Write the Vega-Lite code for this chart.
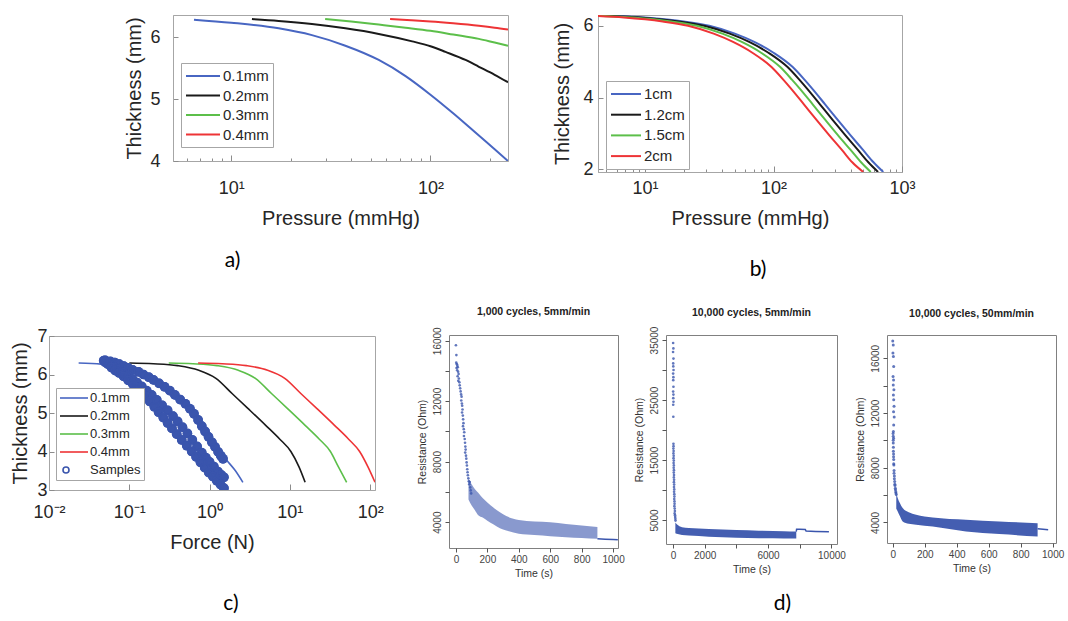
{
"$schema": "https://vega.github.io/schema/vega-lite/v6.json",
"background": "white",
"padding": {"left": 10, "top": 14, "right": 0, "bottom": 0},
"config": {
  "view": {"stroke": "#a6a6a6", "strokeWidth": 1},
  "axis": {"grid": false, "domainColor": "#a6a6a6", "tickColor": "#8c8c8c", "labelFont": "Liberation Sans", "titleFont": "Liberation Sans", "labelColor": "#262626", "titleColor": "#262626", "titleFontWeight": "normal", "labelFontSize": 18, "titleFontSize": 20, "tickSize": -5, "labelOverlap": false, "labelFlush": false},
  "title": {"font": "Lato", "fontSize": 21, "fontWeight": "normal", "color": "#000000"},
  "legend": {"labelFont": "Liberation Sans", "labelColor": "#262626", "strokeColor": "#a6a6a6", "fillColor": "white", "cornerRadius": 0}
},
"datasets": {
  "a": [
    {"P":6.5,"T":6.28,"s":"0.1mm"},{"P":10,"T":6.23,"s":"0.1mm"},{"P":17.3,"T":6.14,"s":"0.1mm"},{"P":25.4,"T":6.03,"s":"0.1mm"},{"P":37.4,"T":5.86,"s":"0.1mm"},{"P":55,"T":5.63,"s":"0.1mm"},{"P":75,"T":5.37,"s":"0.1mm"},{"P":100,"T":5.07,"s":"0.1mm"},{"P":130,"T":4.77,"s":"0.1mm"},{"P":175,"T":4.41,"s":"0.1mm"},{"P":210,"T":4.19,"s":"0.1mm"},{"P":245,"T":4.0,"s":"0.1mm"},
    {"P":12.7,"T":6.29,"s":"0.2mm"},{"P":17.3,"T":6.26,"s":"0.2mm"},{"P":25.4,"T":6.21,"s":"0.2mm"},{"P":37.4,"T":6.14,"s":"0.2mm"},{"P":55,"T":6.05,"s":"0.2mm"},{"P":81,"T":5.93,"s":"0.2mm"},{"P":100,"T":5.85,"s":"0.2mm"},{"P":119,"T":5.76,"s":"0.2mm"},{"P":150,"T":5.63,"s":"0.2mm"},{"P":175,"T":5.52,"s":"0.2mm"},{"P":210,"T":5.39,"s":"0.2mm"},{"P":245,"T":5.27,"s":"0.2mm"},
    {"P":29.6,"T":6.29,"s":"0.3mm"},{"P":40,"T":6.25,"s":"0.3mm"},{"P":55,"T":6.2,"s":"0.3mm"},{"P":75,"T":6.15,"s":"0.3mm"},{"P":100,"T":6.1,"s":"0.3mm"},{"P":130,"T":6.04,"s":"0.3mm"},{"P":175,"T":5.97,"s":"0.3mm"},{"P":210,"T":5.91,"s":"0.3mm"},{"P":245,"T":5.86,"s":"0.3mm"},
    {"P":62.7,"T":6.29,"s":"0.4mm"},{"P":80,"T":6.27,"s":"0.4mm"},{"P":100,"T":6.25,"s":"0.4mm"},{"P":130,"T":6.22,"s":"0.4mm"},{"P":175,"T":6.18,"s":"0.4mm"},{"P":210,"T":6.15,"s":"0.4mm"},{"P":245,"T":6.12,"s":"0.4mm"}
  ],
  "b": [
    {"P":4.3,"T":6.3,"s":"1cm"},{"P":10,"T":6.23,"s":"1cm"},{"P":20,"T":6.12,"s":"1cm"},{"P":31.6,"T":6.0,"s":"1cm"},{"P":50,"T":5.78,"s":"1cm"},{"P":70.8,"T":5.55,"s":"1cm"},{"P":100,"T":5.25,"s":"1cm"},{"P":141,"T":4.85,"s":"1cm"},{"P":174,"T":4.5,"s":"1cm"},{"P":200,"T":4.25,"s":"1cm"},{"P":251,"T":3.82,"s":"1cm"},{"P":316,"T":3.38,"s":"1cm"},{"P":398,"T":2.95,"s":"1cm"},{"P":501,"T":2.53,"s":"1cm"},{"P":600,"T":2.2,"s":"1cm"},{"P":715,"T":1.93,"s":"1cm"},
    {"P":4.3,"T":6.29,"s":"1.2cm"},{"P":9.12,"T":6.23,"s":"1.2cm"},{"P":18.2,"T":6.12,"s":"1.2cm"},{"P":28.8,"T":6.0,"s":"1.2cm"},{"P":45.6,"T":5.78,"s":"1.2cm"},{"P":64.6,"T":5.55,"s":"1.2cm"},{"P":91.2,"T":5.25,"s":"1.2cm"},{"P":128.6,"T":4.85,"s":"1.2cm"},{"P":158.7,"T":4.5,"s":"1.2cm"},{"P":182.4,"T":4.25,"s":"1.2cm"},{"P":228.9,"T":3.82,"s":"1.2cm"},{"P":288.2,"T":3.38,"s":"1.2cm"},{"P":363,"T":2.95,"s":"1.2cm"},{"P":457,"T":2.53,"s":"1.2cm"},{"P":547,"T":2.2,"s":"1.2cm"},{"P":651,"T":1.93,"s":"1.2cm"},
    {"P":4.3,"T":6.28,"s":"1.5cm"},{"P":8,"T":6.23,"s":"1.5cm"},{"P":16,"T":6.12,"s":"1.5cm"},{"P":25.3,"T":6.0,"s":"1.5cm"},{"P":40,"T":5.78,"s":"1.5cm"},{"P":56.6,"T":5.55,"s":"1.5cm"},{"P":80,"T":5.25,"s":"1.5cm"},{"P":112.8,"T":4.85,"s":"1.5cm"},{"P":139,"T":4.5,"s":"1.5cm"},{"P":160,"T":4.25,"s":"1.5cm"},{"P":201,"T":3.82,"s":"1.5cm"},{"P":253,"T":3.38,"s":"1.5cm"},{"P":318,"T":2.95,"s":"1.5cm"},{"P":401,"T":2.53,"s":"1.5cm"},{"P":480,"T":2.2,"s":"1.5cm"},{"P":571,"T":1.93,"s":"1.5cm"},
    {"P":4.3,"T":6.27,"s":"2cm"},{"P":6.84,"T":6.23,"s":"2cm"},{"P":13.7,"T":6.12,"s":"2cm"},{"P":21.6,"T":6.0,"s":"2cm"},{"P":34.2,"T":5.78,"s":"2cm"},{"P":48.4,"T":5.55,"s":"2cm"},{"P":68.4,"T":5.25,"s":"2cm"},{"P":96.4,"T":4.85,"s":"2cm"},{"P":119,"T":4.5,"s":"2cm"},{"P":136.8,"T":4.25,"s":"2cm"},{"P":171.7,"T":3.82,"s":"2cm"},{"P":216,"T":3.38,"s":"2cm"},{"P":272,"T":2.95,"s":"2cm"},{"P":343,"T":2.53,"s":"2cm"},{"P":410,"T":2.2,"s":"2cm"},{"P":499,"T":1.93,"s":"2cm"}
  ],
  "c": [
    {"F":0.0234,"T":6.3,"s":"0.1mm"},{"F":0.0446,"T":6.27,"s":"0.1mm"},{"F":0.085,"T":6.2,"s":"0.1mm"},{"F":0.151,"T":6.05,"s":"0.1mm"},{"F":0.239,"T":5.85,"s":"0.1mm"},{"F":0.371,"T":5.5,"s":"0.1mm"},{"F":0.6,"T":5.02,"s":"0.1mm"},{"F":0.91,"T":4.55,"s":"0.1mm"},{"F":1.19,"T":4.2,"s":"0.1mm"},{"F":1.6,"T":3.8,"s":"0.1mm"},{"F":2.1,"T":3.5,"s":"0.1mm"},{"F":2.6,"T":3.2,"s":"0.1mm"},
    {"F":0.1,"T":6.3,"s":"0.2mm"},{"F":0.2,"T":6.28,"s":"0.2mm"},{"F":0.4,"T":6.23,"s":"0.2mm"},{"F":0.734,"T":6.11,"s":"0.2mm"},{"F":1.2,"T":5.9,"s":"0.2mm"},{"F":1.92,"T":5.5,"s":"0.2mm"},{"F":3,"T":5.12,"s":"0.2mm"},{"F":5,"T":4.68,"s":"0.2mm"},{"F":7.5,"T":4.32,"s":"0.2mm"},{"F":10.3,"T":4.0,"s":"0.2mm"},{"F":13,"T":3.6,"s":"0.2mm"},{"F":15.5,"T":3.2,"s":"0.2mm"},
    {"F":0.31,"T":6.3,"s":"0.3mm"},{"F":0.62,"T":6.28,"s":"0.3mm"},{"F":1.24,"T":6.23,"s":"0.3mm"},{"F":2.28,"T":6.11,"s":"0.3mm"},{"F":3.72,"T":5.9,"s":"0.3mm"},{"F":5.95,"T":5.5,"s":"0.3mm"},{"F":9.3,"T":5.12,"s":"0.3mm"},{"F":15.5,"T":4.68,"s":"0.3mm"},{"F":23.3,"T":4.32,"s":"0.3mm"},{"F":32,"T":4.0,"s":"0.3mm"},{"F":40.3,"T":3.6,"s":"0.3mm"},{"F":51,"T":3.2,"s":"0.3mm"},
    {"F":0.72,"T":6.3,"s":"0.4mm"},{"F":1.44,"T":6.28,"s":"0.4mm"},{"F":2.88,"T":6.23,"s":"0.4mm"},{"F":5.28,"T":6.11,"s":"0.4mm"},{"F":8.64,"T":5.9,"s":"0.4mm"},{"F":13.8,"T":5.5,"s":"0.4mm"},{"F":21.6,"T":5.12,"s":"0.4mm"},{"F":36,"T":4.68,"s":"0.4mm"},{"F":54,"T":4.32,"s":"0.4mm"},{"F":74,"T":4.0,"s":"0.4mm"},{"F":94,"T":3.6,"s":"0.4mm"},{"F":115,"T":3.2,"s":"0.4mm"}
  ],
  "cs": [
    {"F":0.05,"T":6.37,"s":"Samples"},{"F":0.058,"T":6.34,"s":"Samples"},{"F":0.066,"T":6.31,"s":"Samples"},{"F":0.075,"T":6.27,"s":"Samples"},{"F":0.085,"T":6.22,"s":"Samples"},{"F":0.097,"T":6.17,"s":"Samples"},{"F":0.11,"T":6.12,"s":"Samples"},{"F":0.13,"T":6.07,"s":"Samples"},{"F":0.15,"T":6.0,"s":"Samples"},{"F":0.175,"T":5.93,"s":"Samples"},{"F":0.2,"T":5.86,"s":"Samples"},{"F":0.235,"T":5.77,"s":"Samples"},{"F":0.275,"T":5.68,"s":"Samples"},{"F":0.32,"T":5.58,"s":"Samples"},{"F":0.37,"T":5.47,"s":"Samples"},{"F":0.43,"T":5.35,"s":"Samples"},{"F":0.5,"T":5.24,"s":"Samples"},{"F":0.57,"T":5.11,"s":"Samples"},{"F":0.64,"T":4.98,"s":"Samples"},{"F":0.72,"T":4.82,"s":"Samples"},{"F":0.8,"T":4.66,"s":"Samples"},{"F":0.88,"T":4.52,"s":"Samples"},{"F":0.97,"T":4.38,"s":"Samples"},{"F":1.07,"T":4.24,"s":"Samples"},{"F":1.17,"T":4.12,"s":"Samples"},{"F":1.28,"T":3.99,"s":"Samples"},{"F":1.38,"T":3.89,"s":"Samples"},{"F":1.47,"T":3.81,"s":"Samples"},
    {"F":0.05,"T":6.32,"s":"Samples"},{"F":0.057,"T":6.26,"s":"Samples"},{"F":0.065,"T":6.19,"s":"Samples"},{"F":0.074,"T":6.13,"s":"Samples"},{"F":0.084,"T":6.05,"s":"Samples"},{"F":0.096,"T":5.97,"s":"Samples"},{"F":0.11,"T":5.88,"s":"Samples"},{"F":0.125,"T":5.79,"s":"Samples"},{"F":0.143,"T":5.69,"s":"Samples"},{"F":0.165,"T":5.58,"s":"Samples"},{"F":0.19,"T":5.47,"s":"Samples"},{"F":0.22,"T":5.34,"s":"Samples"},{"F":0.256,"T":5.2,"s":"Samples"},{"F":0.3,"T":5.07,"s":"Samples"},{"F":0.35,"T":4.92,"s":"Samples"},{"F":0.4,"T":4.78,"s":"Samples"},{"F":0.46,"T":4.63,"s":"Samples"},{"F":0.53,"T":4.47,"s":"Samples"},{"F":0.61,"T":4.3,"s":"Samples"},{"F":0.7,"T":4.13,"s":"Samples"},{"F":0.8,"T":3.97,"s":"Samples"},{"F":0.9,"T":3.84,"s":"Samples"},{"F":1.0,"T":3.73,"s":"Samples"},{"F":1.13,"T":3.61,"s":"Samples"},{"F":1.27,"T":3.48,"s":"Samples"},{"F":1.4,"T":3.39,"s":"Samples"},{"F":1.51,"T":3.33,"s":"Samples"},
    {"F":0.048,"T":6.36,"s":"Samples"},{"F":0.054,"T":6.27,"s":"Samples"},{"F":0.06,"T":6.18,"s":"Samples"},{"F":0.067,"T":6.1,"s":"Samples"},{"F":0.075,"T":6.04,"s":"Samples"},{"F":0.085,"T":5.95,"s":"Samples"},{"F":0.097,"T":5.85,"s":"Samples"},{"F":0.11,"T":5.76,"s":"Samples"},{"F":0.125,"T":5.66,"s":"Samples"},{"F":0.142,"T":5.55,"s":"Samples"},{"F":0.16,"T":5.43,"s":"Samples"},{"F":0.18,"T":5.3,"s":"Samples"},{"F":0.205,"T":5.16,"s":"Samples"},{"F":0.232,"T":5.02,"s":"Samples"},{"F":0.265,"T":4.88,"s":"Samples"},{"F":0.3,"T":4.74,"s":"Samples"},{"F":0.34,"T":4.6,"s":"Samples"},{"F":0.39,"T":4.45,"s":"Samples"},{"F":0.45,"T":4.3,"s":"Samples"},{"F":0.52,"T":4.15,"s":"Samples"},{"F":0.6,"T":4.0,"s":"Samples"},{"F":0.68,"T":3.86,"s":"Samples"},{"F":0.77,"T":3.72,"s":"Samples"},{"F":0.87,"T":3.58,"s":"Samples"},{"F":0.98,"T":3.45,"s":"Samples"},{"F":1.1,"T":3.35,"s":"Samples"},{"F":1.23,"T":3.24,"s":"Samples"},{"F":1.37,"T":3.14,"s":"Samples"},{"F":1.51,"T":3.05,"s":"Samples"}
  ],
  "d1b": [
    {"t":80,"R":5500,"R2":6900},{"t":100,"R":5100,"R2":6500},{"t":120,"R":4800,"R2":6200},{"t":142,"R":4450,"R2":5950},{"t":170,"R":4300,"R2":5600},{"t":200,"R":4100,"R2":5300},{"t":240,"R":3850,"R2":4950},{"t":280,"R":3600,"R2":4650},{"t":320,"R":3450,"R2":4400},{"t":400,"R":3230,"R2":4150},{"t":500,"R":3150,"R2":4050},{"t":600,"R":3075,"R2":4000},{"t":700,"R":3000,"R2":3880},{"t":800,"R":2950,"R2":3780},{"t":900,"R":2900,"R2":3680}
  ],
  "d1p": [
    {"t":0,"R":15700},{"t":3,"R":15050},{"t":2,"R":14550},{"t":6,"R":14450},{"t":9,"R":14350},{"t":4,"R":14200},{"t":12,"R":14250},{"t":8,"R":14050},{"t":14,"R":13950},{"t":17,"R":13800},{"t":11,"R":13650},{"t":19,"R":13500},{"t":15,"R":13350},{"t":22,"R":13250},{"t":24,"R":13050},{"t":27,"R":12850},{"t":30,"R":12650},{"t":33,"R":12450},{"t":36,"R":12300},{"t":34,"R":12050},{"t":38,"R":11850},{"t":40,"R":11700},{"t":42,"R":11450},{"t":39,"R":11250},{"t":44,"R":11050},{"t":46,"R":10800},{"t":48,"R":10550},{"t":45,"R":10350},{"t":50,"R":10150},{"t":53,"R":9950},{"t":51,"R":9700},{"t":56,"R":9500},{"t":58,"R":9250},{"t":60,"R":9000},{"t":62,"R":8800},{"t":59,"R":8600},{"t":64,"R":8400},{"t":66,"R":8200},{"t":68,"R":7950},{"t":70,"R":7750},{"t":72,"R":7500},{"t":74,"R":7300},{"t":76,"R":7100},{"t":79,"R":6900},{"t":82,"R":6700},{"t":85,"R":6500},{"t":88,"R":6650},{"t":91,"R":6300},{"t":94,"R":6100},{"t":97,"R":5900}
  ],
  "d1l": [{"t":900,"R":2900},{"t":950,"R":2870},{"t":1000,"R":2850},{"t":1030,"R":2830}],
  "d2b": [
    {"t":150,"R":2800,"R2":4600},{"t":300,"R":2650,"R2":4150},{"t":570,"R":2500,"R2":3800},{"t":1000,"R":2400,"R2":3650},{"t":2260,"R":2220,"R2":3500},{"t":4000,"R":2050,"R2":3330},{"t":5420,"R":1950,"R2":3220},{"t":7000,"R":1930,"R2":3120},{"t":7780,"R":1930,"R2":3070}
  ],
  "d2p": [
    {"t":10,"R":34500},{"t":25,"R":33600},{"t":5,"R":33000},{"t":30,"R":31900},{"t":15,"R":31100},{"t":20,"R":30600},{"t":35,"R":30000},{"t":10,"R":29400},{"t":25,"R":28800},{"t":18,"R":28300},{"t":30,"R":27200},{"t":12,"R":26400},{"t":28,"R":25900},{"t":20,"R":25300},{"t":32,"R":24700},{"t":15,"R":24200},{"t":22,"R":22200},
    {"t":30,"R":17700},{"t":35,"R":17300},{"t":25,"R":16900},{"t":40,"R":16500},{"t":30,"R":16100},{"t":45,"R":15700},{"t":35,"R":15300},{"t":50,"R":14900},{"t":40,"R":14500},{"t":55,"R":14100},{"t":45,"R":13700},{"t":60,"R":13300},{"t":50,"R":12900},{"t":65,"R":12500},{"t":55,"R":12100},{"t":70,"R":11700},{"t":60,"R":11300},{"t":75,"R":10900},{"t":65,"R":10500},{"t":80,"R":10100},{"t":70,"R":9700},{"t":85,"R":9300},{"t":90,"R":8900},{"t":80,"R":8500},{"t":95,"R":8100},{"t":100,"R":7700},{"t":90,"R":7300},{"t":110,"R":6900},{"t":120,"R":6500},{"t":105,"R":6100},{"t":130,"R":5800},{"t":140,"R":5500},{"t":150,"R":5200},{"t":160,"R":4900}
  ],
  "d2l": [{"t":7780,"R":3070},{"t":7800,"R":3450},{"t":8000,"R":3440},{"t":8350,"R":3400},{"t":8400,"R":3150},{"t":9000,"R":3100},{"t":9840,"R":3050}],
  "d3b": [
    {"t":22,"R":5000,"R2":6150},{"t":31,"R":4800,"R2":5780},{"t":45,"R":4450,"R2":5400},{"t":62,"R":4070,"R2":5050},{"t":100,"R":3900,"R2":4750},{"t":146,"R":3830,"R2":4560},{"t":250,"R":3700,"R2":4360},{"t":458,"R":3340,"R2":4200},{"t":667,"R":3150,"R2":4070},{"t":906,"R":2980,"R2":3950}
  ],
  "d3p": [
    {"t":0,"R":17260},{"t":3,"R":16970},{"t":1,"R":16390},{"t":4,"R":16120},{"t":6,"R":15390},{"t":2,"R":14660},{"t":5,"R":14420},{"t":3,"R":14050},{"t":7,"R":13700},{"t":4,"R":13320},{"t":6,"R":12960},{"t":8,"R":12500},{"t":5,"R":12100},{"t":9,"R":11700},{"t":6,"R":11130},{"t":4,"R":10640},{"t":3,"R":10300},{"t":5,"R":10160},
    {"t":2,"R":10500},{"t":3,"R":10000},{"t":4,"R":9500},{"t":5,"R":9000},{"t":6,"R":8600},{"t":7,"R":8200},{"t":8,"R":7800},{"t":10,"R":7400},{"t":12,"R":7000},{"t":14,"R":6700},{"t":17,"R":6400},{"t":20,"R":6150},{"t":3,"R":9800},{"t":4,"R":9200},{"t":5,"R":8800},{"t":6,"R":8300},{"t":8,"R":7600},{"t":10,"R":7200},{"t":13,"R":6800},{"t":16,"R":6500},{"t":19,"R":6250},{"t":22,"R":6050}
  ],
  "d3l": [{"t":906,"R":3540},{"t":940,"R":3500},{"t":972,"R":3470}]
},
"spacing": 25,
"resolve": {"scale": {"color": "independent", "shape": "independent"}, "legend": {"color": "independent", "shape": "independent"}},
"vconcat": [
  {
    "spacing": 43,
    "resolve": {"scale": {"color": "independent"}, "legend": {"color": "independent"}},
    "hconcat": [
      {"data": {"values": []}, "mark": "point", "width": 32, "height": 1, "view": {"stroke": null}},
      {
        "width": 335, "height": 146,
        "data": {"name": "a"},
        "title": {"text": "a)", "orient": "bottom", "anchor": "middle", "dx": -108, "offset": 22},
        "mark": {"type": "line", "strokeWidth": 2, "interpolate": "monotone", "clip": true},
        "encoding": {
          "x": {"field": "P", "type": "quantitative", "scale": {"type": "log", "domain": [5.1, 245], "nice": false},
            "axis": {"title": "Pressure (mmHg)", "values": [6,7,8,9,10,20,30,40,50,60,70,80,90,100,200],
              "labelExpr": "datum.value == 10 ? '10¹' : datum.value == 100 ? '10²' : ''",
              "tickSize": {"condition": {"test": "datum.value == 10 || datum.value == 100", "value": -6}, "value": -3},
              "labelPadding": 24, "titlePadding": 8}},
          "y": {"field": "T", "type": "quantitative", "scale": {"domain": [4, 6.355], "nice": false, "zero": false},
            "axis": {"title": "Thickness (mm)", "values": [4,5,6], "format": "d", "labelPadding": 18, "titlePadding": 5}},
          "color": {"field": "s", "type": "nominal", "scale": {"domain": ["0.1mm","0.2mm","0.3mm","0.4mm"], "range": ["#4866c2","#1a1a1a","#5cbf4a","#ee3436"]},
            "legend": {"orient": "none", "legendX": 8, "legendY": 48, "title": null, "symbolType": "M-1,0H3.25", "symbolSize": 256, "symbolStrokeWidth": 2, "labelFontSize": 15, "labelOffset": 20, "rowPadding": 2.5, "padding": 4}}
        }
      },
      {
        "width": 304, "height": 157,
        "data": {"name": "b"},
        "title": {"text": "b)", "orient": "bottom", "anchor": "middle", "dx": 8, "offset": 31},
        "mark": {"type": "line", "strokeWidth": 2, "interpolate": "monotone", "clip": true},
        "encoding": {
          "x": {"field": "P", "type": "quantitative", "scale": {"type": "log", "domain": [4.3, 1000], "nice": false},
            "axis": {"title": "Pressure (mmHg)", "values": [5,6,7,8,9,10,20,30,40,50,60,70,80,90,100,200,300,400,500,600,700,800,900,1000],
              "labelExpr": "datum.value == 10 ? '10¹' : datum.value == 100 ? '10²' : datum.value == 1000 ? '10³' : ''",
              "tickSize": {"condition": {"test": "datum.value == 10 || datum.value == 100 || datum.value == 1000", "value": -6}, "value": -3},
              "labelPadding": 13, "titlePadding": 8}},
          "y": {"field": "T", "type": "quantitative", "scale": {"domain": [1.93, 6.3], "nice": false, "zero": false},
            "axis": {"title": "Thickness (mm)", "values": [2,4,6], "format": "d", "labelPadding": 10, "titlePadding": 10}},
          "color": {"field": "s", "type": "nominal", "scale": {"domain": ["1cm","1.2cm","1.5cm","2cm"], "range": ["#4866c2","#1a1a1a","#5cbf4a","#ee3436"]},
            "legend": {"orient": "none", "legendX": 8, "legendY": 66, "title": null, "symbolType": "M-1,0H2.75", "symbolSize": 256, "symbolStrokeWidth": 2, "labelFontSize": 15, "labelOffset": 16, "rowPadding": 3.7, "padding": 4}}
        }
      }
    ]
  },
  {
    "spacing": 32,
    "resolve": {"scale": {"color": "independent", "shape": "independent"}, "legend": {"color": "independent", "shape": "independent"}},
    "hconcat": [
      {
        "spacing": -10,
        "resolve": {"scale": {"color": "independent", "shape": "independent"}, "legend": {"color": "independent", "shape": "independent"}},
        "vconcat": [
          {"data": {"values": []}, "mark": "point", "width": 1, "height": 1, "view": {"stroke": null}},
          {
            "width": 326, "height": 154,
            "title": {"text": "c)", "orient": "bottom", "anchor": "middle", "dx": 19, "offset": 41},
            "encoding": {
              "x": {"field": "F", "type": "quantitative", "scale": {"type": "log", "domain": [0.01, 115], "nice": false},
                "axis": {"title": "Force (N)", "values": [0.01, 0.1, 1, 10, 100],
                  "labelExpr": "datum.value == 0.01 ? '10⁻²' : datum.value == 0.1 ? '10⁻¹' : datum.value == 1 ? '10⁰' : datum.value == 10 ? '10¹' : '10²'",
                  "tickSize": -6, "labelPadding": 19, "titlePadding": 11}},
              "y": {"field": "T", "type": "quantitative", "scale": {"domain": [3, 7], "nice": false, "zero": false},
                "axis": {"title": "Thickness (mm)", "values": [3,4,5,6,7], "format": "d", "labelPadding": 7, "titlePadding": 6}}
            },
            "layer": [
              {
                "data": {"name": "c"},
                "mark": {"type": "line", "strokeWidth": 1.6, "interpolate": "monotone", "clip": true},
                "encoding": {
                  "color": {"field": "s", "type": "nominal", "scale": {"domain": ["0.1mm","0.2mm","0.3mm","0.4mm","Samples"], "range": ["#4866c2","#1a1a1a","#5cbf4a","#ee3436","#3a55ad"]},
                    "legend": {"orient": "none", "legendX": 7, "legendY": 52, "title": null, "symbolSize": 144, "symbolStrokeWidth": 1.6, "labelFontSize": 13, "labelOffset": 17, "rowPadding": 4, "padding": 3}}
                }
              },
              {
                "data": {"name": "cs"},
                "mark": {"type": "point", "filled": true, "size": 95, "opacity": 1, "color": "#3a55ad", "clip": true}
              },
              {
                "data": {"name": "cs"},
                "mark": {"type": "point", "filled": false, "strokeWidth": 1.5, "size": 256, "opacity": 1, "clip": true},
                "encoding": {
                  "color": {"field": "s", "type": "nominal", "scale": {"domain": ["0.1mm","0.2mm","0.3mm","0.4mm","Samples"], "range": ["#4866c2","#1a1a1a","#5cbf4a","#ee3436","#3a55ad"]},
                    "legend": {"orient": "none", "legendX": 7, "legendY": 52, "title": null, "symbolSize": 144, "symbolStrokeWidth": 1.6, "labelFontSize": 13, "labelOffset": 17, "rowPadding": 4, "padding": 3}},
                  "shape": {"field": "s", "type": "nominal", "scale": {"domain": ["0.1mm","0.2mm","0.3mm","0.4mm","Samples"], "range": ["M-1,0H3.67","M-1,0H3.67","M-1,0H3.67","M-1,0H3.67","M0.5,0A0.5,0.5 0 1,1 -0.5,0A0.5,0.5 0 1,1 0.5,0"]},
                    "legend": {"orient": "none", "legendX": 7, "legendY": 52, "title": null, "symbolSize": 144, "symbolStrokeWidth": 1.6, "labelFontSize": 13, "labelOffset": 17, "rowPadding": 4, "padding": 3}}
                }
              }
            ]
          }
        ]
      },
      {
        "spacing": 8,
        "title": {"text": "d)", "orient": "bottom", "anchor": "middle", "offset": 14, "dx": 42},
        "hconcat": [
          {
            "width": 169, "height": 213,
            "title": {"text": "1,000 cycles, 5mm/min", "font": "Liberation Sans", "fontSize": 10.5, "fontWeight": "bold", "color": "#222222", "offset": 9},
            "view": {"stroke": "#808080"},
            "encoding": {
              "x": {"field": "t", "type": "quantitative", "scale": {"domain": [-44, 1031], "nice": false, "zero": false},
                "axis": {"title": "Time (s)", "values": [0,200,400,600,800,1000], "format": "d", "domain": false, "tickSize": 4, "tickColor": "#555555", "labelFontSize": 10, "labelColor": "#444444", "titleFontSize": 10.5, "titleColor": "#333333", "labelPadding": 2, "titlePadding": 4}},
              "y": {"field": "R", "type": "quantitative", "scale": {"domain": [2290, 16380], "nice": false, "zero": false},
                "axis": {"title": "Resistance (Ohm)", "values": [4000,6000,8000,10000,12000,14000,16000], "labelExpr": "datum.value % 4000 == 0 ? '' + datum.value : ''", "labelAngle": -90, "labelAlign": "center", "labelBaseline": "bottom", "domain": false, "tickSize": 4, "tickColor": "#555555", "labelFontSize": 10, "labelColor": "#444444", "titleFontSize": 10.5, "titleColor": "#333333", "labelPadding": 3, "titlePadding": 5}}
            },
            "layer": [
              {"data": {"name": "d1b"}, "mark": {"type": "area", "color": "#3a55ad", "opacity": 0.6, "interpolate": "monotone"}, "encoding": {"y2": {"field": "R2"}}},
              {"data": {"name": "d1p"}, "mark": {"type": "point", "filled": true, "size": 7, "color": "#3a55ad", "opacity": 0.8}},
              {"data": {"name": "d1l"}, "mark": {"type": "line", "color": "#3a55ad", "strokeWidth": 1.5}}
            ]
          },
          {
            "width": 171, "height": 209,
            "title": {"text": "10,000 cycles, 5mm/min", "font": "Liberation Sans", "fontSize": 10.5, "fontWeight": "bold", "color": "#222222", "offset": 8},
            "view": {"stroke": "#808080"},
            "encoding": {
              "x": {"field": "t", "type": "quantitative", "scale": {"domain": [-440, 10350], "nice": false, "zero": false},
                "axis": {"title": "Time (s)", "values": [0,2000,4000,6000,8000,10000], "labelExpr": "datum.value == 0 || datum.value % 4000 == 2000 ? '' + datum.value : ''", "domain": false, "tickSize": 4, "tickColor": "#555555", "labelFontSize": 10, "labelColor": "#444444", "titleFontSize": 10.5, "titleColor": "#333333", "labelPadding": 2, "titlePadding": 4}},
              "y": {"field": "R", "type": "quantitative", "scale": {"domain": [1000, 35830], "nice": false, "zero": false},
                "axis": {"title": "Resistance (Ohm)", "values": [5000,10000,15000,20000,25000,30000,35000], "labelExpr": "(datum.value / 5000) % 2 == 1 ? '' + datum.value : ''", "labelAngle": -90, "labelAlign": "center", "labelBaseline": "bottom", "domain": false, "tickSize": 4, "tickColor": "#555555", "labelFontSize": 10, "labelColor": "#444444", "titleFontSize": 10.5, "titleColor": "#333333", "labelPadding": 3, "titlePadding": 5}}
            },
            "layer": [
              {"data": {"name": "d2b"}, "mark": {"type": "area", "color": "#3a55ad", "opacity": 0.95, "interpolate": "monotone"}, "encoding": {"y2": {"field": "R2"}}},
              {"data": {"name": "d2p"}, "mark": {"type": "point", "filled": true, "size": 7, "color": "#3a55ad", "opacity": 0.8}},
              {"data": {"name": "d2l"}, "mark": {"type": "line", "color": "#3a55ad", "strokeWidth": 1.5}}
            ]
          },
          {
            "width": 169, "height": 208,
            "title": {"text": "10,000 cycles, 50mm/min", "font": "Liberation Sans", "fontSize": 10.5, "fontWeight": "bold", "color": "#222222", "offset": 16},
            "view": {"stroke": "#808080"},
            "encoding": {
              "x": {"field": "t", "type": "quantitative", "scale": {"domain": [-36, 1021], "nice": false, "zero": false},
                "axis": {"title": "Time (s)", "values": [0,200,400,600,800,1000], "format": "d", "domain": false, "tickSize": 4, "tickColor": "#555555", "labelFontSize": 10, "labelColor": "#444444", "titleFontSize": 10.5, "titleColor": "#333333", "labelPadding": 2, "titlePadding": 4}},
              "y": {"field": "R", "type": "quantitative", "scale": {"domain": [2500, 17700], "nice": false, "zero": false},
                "axis": {"title": "Resistance (Ohm)", "values": [4000,6000,8000,10000,12000,14000,16000], "labelExpr": "datum.value % 4000 == 0 ? '' + datum.value : ''", "labelAngle": -90, "labelAlign": "center", "labelBaseline": "bottom", "domain": false, "tickSize": 4, "tickColor": "#555555", "labelFontSize": 10, "labelColor": "#444444", "titleFontSize": 10.5, "titleColor": "#333333", "labelPadding": 3, "titlePadding": 5}}
            },
            "layer": [
              {"data": {"name": "d3b"}, "mark": {"type": "area", "color": "#3a55ad", "opacity": 0.95, "interpolate": "monotone"}, "encoding": {"y2": {"field": "R2"}}},
              {"data": {"name": "d3p"}, "mark": {"type": "point", "filled": true, "size": 9, "color": "#3a55ad", "opacity": 0.8}},
              {"data": {"name": "d3l"}, "mark": {"type": "line", "color": "#3a55ad", "strokeWidth": 1.5}}
            ]
          }
        ]
      }
    ]
  }
]
}
